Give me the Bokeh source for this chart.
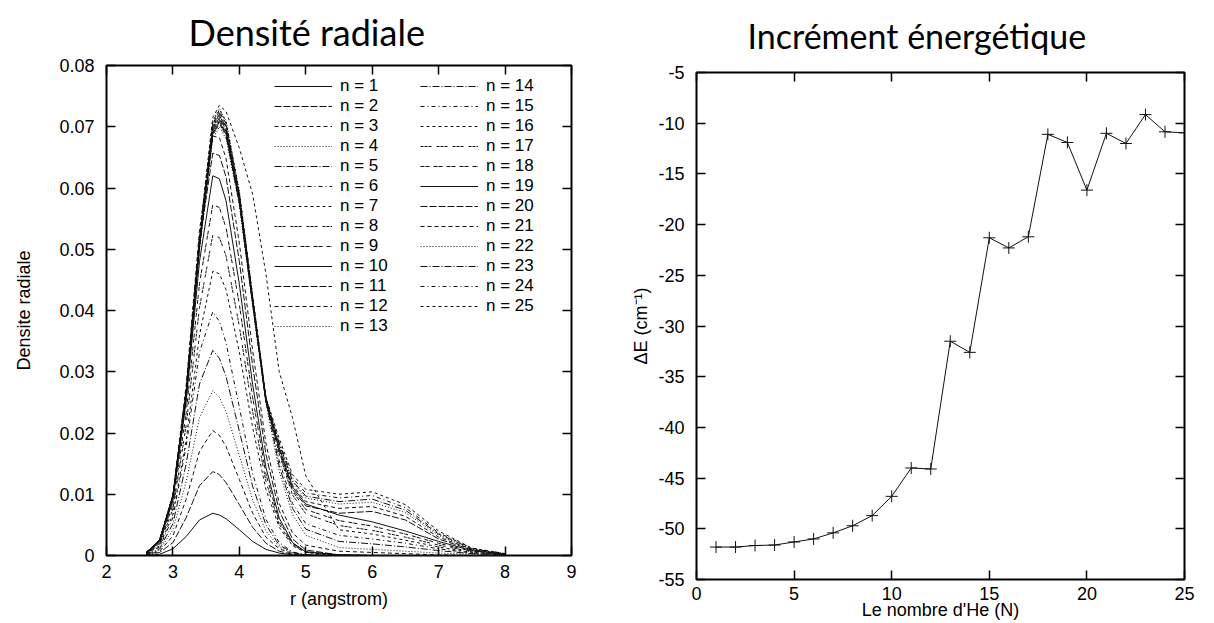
from bokeh.plotting import figure
from bokeh.layouts import row, column
from bokeh.models import Legend, LegendItem, LinearAxis, FixedTicker, Range1d, Title
from bokeh.embed import file_html
from bokeh.resources import INLINE

# ---------------- data: radial density (left panel) ----------------
R = [2.6, 2.8, 3.0, 3.2, 3.4, 3.6, 3.7, 3.8, 4.0, 4.2, 4.4, 4.6, 4.8, 5.0, 5.5, 6.0, 6.5, 7.0, 7.5, 8.0]

d01 = [0.0000, 0.0002, 0.0011, 0.0031, 0.0058, 0.0069, 0.0066, 0.0060, 0.0042, 0.0023, 0.0010, 0.0004, 0.0001, 0.0000, 0, 0, 0, 0, 0, 0]
d02 = [0.0001, 0.0005, 0.0021, 0.0062, 0.0114, 0.0137, 0.0132, 0.0119, 0.0083, 0.0046, 0.0020, 0.0007, 0.0002, 0.0000, 0, 0, 0, 0, 0, 0]
d03 = [0.0001, 0.0007, 0.0032, 0.0092, 0.0170, 0.0204, 0.0196, 0.0178, 0.0124, 0.0069, 0.0030, 0.0011, 0.0003, 0.0001, 0, 0, 0, 0, 0, 0]
d04 = [0.0001, 0.0009, 0.0042, 0.0121, 0.0225, 0.0269, 0.0258, 0.0235, 0.0163, 0.0091, 0.0040, 0.0014, 0.0004, 0.0001, 0, 0, 0, 0, 0, 0]
d05 = [0.0002, 0.0011, 0.0052, 0.0150, 0.0280, 0.0335, 0.0322, 0.0292, 0.0203, 0.0113, 0.0050, 0.0017, 0.0005, 0.0001, 0, 0, 0, 0, 0, 0]
d06 = [0.0002, 0.0014, 0.0062, 0.0179, 0.0332, 0.0398, 0.0382, 0.0347, 0.0242, 0.0134, 0.0059, 0.0021, 0.0006, 0.0001, 0, 0, 0, 0, 0, 0]
d07 = [0.0003, 0.0016, 0.0067, 0.0189, 0.0360, 0.0464, 0.0460, 0.0434, 0.0332, 0.0209, 0.0108, 0.0046, 0.0016, 0.0005, 0, 0, 0, 0, 0, 0]
d08 = [0.0003, 0.0018, 0.0076, 0.0213, 0.0405, 0.0523, 0.0519, 0.0489, 0.0374, 0.0235, 0.0121, 0.0051, 0.0018, 0.0005, 0.0001, 0, 0, 0, 0, 0]
d09 = [0.0003, 0.0020, 0.0083, 0.0233, 0.0444, 0.0573, 0.0568, 0.0535, 0.0410, 0.0258, 0.0133, 0.0056, 0.0020, 0.0006, 0.0001, 0, 0, 0, 0, 0]
d10 = [0.0003, 0.0022, 0.0090, 0.0252, 0.0480, 0.0620, 0.0615, 0.0579, 0.0443, 0.0279, 0.0144, 0.0061, 0.0021, 0.0006, 0.0001, 0, 0, 0, 0, 0]
d11 = [0.0004, 0.0023, 0.0095, 0.0267, 0.0510, 0.0657, 0.0653, 0.0618, 0.0480, 0.0310, 0.0165, 0.0073, 0.0027, 0.0009, 0.0001, 0, 0, 0, 0, 0]
d12 = [0.0004, 0.0024, 0.0099, 0.0279, 0.0531, 0.0685, 0.0682, 0.0648, 0.0510, 0.0335, 0.0183, 0.0085, 0.0037, 0.0017, 0.0007, 0.0005, 0.0003, 0.0001, 0.0000, 0.0000]
d13 = [0.0005, 0.0025, 0.0095, 0.0258, 0.0498, 0.0681, 0.0700, 0.0680, 0.0571, 0.0407, 0.0249, 0.0137, 0.0067, 0.0033, 0.0013, 0.0010, 0.0007, 0.0004, 0.0002, 0.0000]
d14 = [0.0005, 0.0025, 0.0096, 0.0263, 0.0507, 0.0693, 0.0712, 0.0692, 0.0580, 0.0414, 0.0253, 0.0146, 0.0077, 0.0043, 0.0023, 0.0019, 0.0014, 0.0008, 0.0003, 0.0001]
d15 = [0.0005, 0.0025, 0.0097, 0.0266, 0.0514, 0.0703, 0.0722, 0.0702, 0.0588, 0.0420, 0.0256, 0.0155, 0.0085, 0.0052, 0.0033, 0.0027, 0.0020, 0.0011, 0.0004, 0.0001]
d16 = [0.0005, 0.0026, 0.0099, 0.0271, 0.0523, 0.0715, 0.0735, 0.0725, 0.0665, 0.0590, 0.0460, 0.0300, 0.0225, 0.0130, 0.0042, 0.0035, 0.0025, 0.0014, 0.0005, 0.0001]
d17 = [0.0005, 0.0025, 0.0097, 0.0265, 0.0511, 0.0699, 0.0718, 0.0698, 0.0585, 0.0418, 0.0255, 0.0166, 0.0099, 0.0068, 0.0049, 0.0041, 0.0030, 0.0017, 0.0006, 0.0001]
d18 = [0.0005, 0.0025, 0.0095, 0.0260, 0.0502, 0.0686, 0.0705, 0.0685, 0.0575, 0.0410, 0.0250, 0.0169, 0.0105, 0.0075, 0.0057, 0.0048, 0.0035, 0.0020, 0.0007, 0.0002]
d19 = [0.0005, 0.0025, 0.0096, 0.0261, 0.0504, 0.0689, 0.0708, 0.0688, 0.0577, 0.0412, 0.0251, 0.0176, 0.0112, 0.0084, 0.0066, 0.0055, 0.0040, 0.0023, 0.0008, 0.0002]
d20 = [0.0005, 0.0025, 0.0097, 0.0264, 0.0509, 0.0696, 0.0715, 0.0695, 0.0583, 0.0416, 0.0254, 0.0172, 0.0108, 0.0081, 0.0069, 0.0072, 0.0058, 0.0027, 0.0009, 0.0002]
d21 = [0.0005, 0.0025, 0.0098, 0.0268, 0.0516, 0.0705, 0.0725, 0.0705, 0.0591, 0.0422, 0.0257, 0.0177, 0.0115, 0.0088, 0.0077, 0.0080, 0.0064, 0.0030, 0.0010, 0.0002]
d22 = [0.0005, 0.0026, 0.0099, 0.0269, 0.0520, 0.0710, 0.0730, 0.0710, 0.0595, 0.0425, 0.0259, 0.0182, 0.0120, 0.0094, 0.0084, 0.0087, 0.0070, 0.0033, 0.0010, 0.0003]
d23 = [0.0005, 0.0025, 0.0097, 0.0266, 0.0513, 0.0701, 0.0720, 0.0700, 0.0587, 0.0419, 0.0256, 0.0183, 0.0122, 0.0097, 0.0088, 0.0092, 0.0074, 0.0035, 0.0011, 0.0003]
d24 = [0.0005, 0.0025, 0.0096, 0.0262, 0.0506, 0.0691, 0.0710, 0.0690, 0.0579, 0.0413, 0.0252, 0.0185, 0.0127, 0.0102, 0.0094, 0.0098, 0.0078, 0.0037, 0.0012, 0.0003]
d25 = [0.0005, 0.0025, 0.0098, 0.0269, 0.0518, 0.0708, 0.0728, 0.0708, 0.0593, 0.0424, 0.0258, 0.0191, 0.0132, 0.0108, 0.0100, 0.0104, 0.0083, 0.0040, 0.0012, 0.0003]

curves = [d01, d02, d03, d04, d05, d06, d07, d08, d09, d10, d11, d12, d13,
          d14, d15, d16, d17, d18, d19, d20, d21, d22, d23, d24, d25]
curve_labels = ["n = %d" % i for i in range(1, 26)]
dash_cycle = ["solid", "7 2", "4 3", "1 2", "7 2 1 2", "4 3 1 3", "3 3", "3 1 3 1 3 5", "4 1 4 4"]

x_ticks_left = [2, 3, 4, 5, 6, 7, 8, 9]
y_ticks_left = [0, 0.01, 0.02, 0.03, 0.04, 0.05, 0.06, 0.07, 0.08]
y_labels_left = ["0", "0.01", "0.02", "0.03", "0.04", "0.05", "0.06", "0.07", "0.08"]

# ---------------- data: energy increment (right panel) ----------------
N_he = [1, 2, 3, 4, 5, 6, 7, 8, 9, 10, 11, 12, 13, 14, 15, 16, 17, 18, 19, 20, 21, 22, 23, 24, 25]
dE = [-51.8, -51.8, -51.65, -51.6, -51.3, -51.0, -50.4, -49.7, -48.7, -46.8, -44.0, -44.1, -31.5,
      -32.6, -21.3, -22.3, -21.2, -11.1, -11.9, -16.6, -11.0, -12.0, -9.15, -10.85, -10.95]
x_ticks_right = [0, 5, 10, 15, 20, 25]
y_ticks_right = [-55, -50, -45, -40, -35, -30, -25, -20, -15, -10, -5]
y_labels_right = ["-55", "-50", "-45", "-40", "-35", "-30", "-25", "-20", "-15", "-10", "-5"]

FONT = "Liberation Sans"
TFONT = "Lato"
FS = "18px"


def style_axis(ax, ticks, standoff, overrides=None):
    ax.ticker = FixedTicker(ticks=ticks)
    ax.major_tick_in = 9
    ax.major_tick_out = 0
    ax.major_tick_line_color = "black"
    ax.major_tick_line_width = 1.5
    ax.minor_tick_line_color = None
    ax.axis_line_color = None
    ax.major_label_text_font = FONT
    ax.major_label_text_font_size = FS
    ax.major_label_text_color = "black"
    ax.major_label_standoff = standoff
    ax.axis_label_text_font = FONT
    ax.axis_label_text_font_size = FS
    ax.axis_label_text_font_style = "normal"
    ax.axis_label_text_color = "black"
    if overrides:
        ax.major_label_overrides = overrides


def mirror_axes(p, xt, yt):
    # inward ticks on the top and right edges of the frame, no labels
    top = LinearAxis()
    style_axis(top, xt, 0)
    top.major_label_text_font_size = "1px"
    top.major_label_text_color = None
    p.add_layout(top, "above")
    right = LinearAxis()
    style_axis(right, yt, 0)
    right.major_label_text_font_size = "1px"
    right.major_label_text_color = None
    p.add_layout(right, "right")


def add_title(p, text, offset, standoff, size):
    p.add_layout(Title(text=text, align="left", offset=offset, standoff=standoff,
                       vertical_align="top",
                       text_font=TFONT, text_font_size=size, text_font_style="normal",
                       text_line_height=0.6, text_color="black"), "above")


# ---------------- left figure ----------------
p1 = figure(frame_width=465, frame_height=490, x_range=Range1d(2, 9), y_range=Range1d(0, 0.08),
            output_backend="svg", toolbar_location=None,
            min_border_left=106, min_border_right=41, min_border_top=57, min_border_bottom=68)
p1.grid.visible = False
p1.outline_line_color = "black"
p1.outline_line_width = 2
style_axis(p1.xaxis[0], x_ticks_left, 9)
style_axis(p1.yaxis[0], y_ticks_left, 12, dict(zip(y_ticks_left, y_labels_left)))
p1.xaxis[0].axis_label = "r (angstrom)"
p1.xaxis[0].axis_label_standoff = 8
p1.yaxis[0].axis_label = "Densite radiale"
p1.yaxis[0].axis_label_standoff = 22
mirror_axes(p1, x_ticks_left, y_ticks_left)
add_title(p1, "Densité radiale", 82, 19, "36px")

items = []
for i, (d, lab) in enumerate(zip(curves, curve_labels)):
    r = p1.line(R, d, line_color="#111111", line_width=1, line_dash=dash_cycle[i % 9])
    items.append(LegendItem(label=lab, renderers=[r]))

legend = Legend(items=items, location=(168, 219), nrows=13, orientation="vertical",
                glyph_width=58, glyph_height=20, label_height=20, label_width=80,
                label_standoff=8, spacing=0, padding=0, margin=0,
                border_line_color=None, background_fill_alpha=0,
                label_text_font=FONT, label_text_font_size="17px",
                label_text_color="black")
p1.add_layout(legend)

# ---------------- right figure ----------------
p2 = figure(frame_width=488, frame_height=507, x_range=Range1d(0, 25), y_range=Range1d(-55, -5),
            output_backend="svg", toolbar_location=None,
            min_border_left=84, min_border_right=22, min_border_top=65, min_border_bottom=43)
p2.grid.visible = False
p2.outline_line_color = "black"
p2.outline_line_width = 2
style_axis(p2.xaxis[0], x_ticks_right, 7)
style_axis(p2.yaxis[0], y_ticks_right, 12, dict(zip(y_ticks_right, y_labels_right)))
p2.xaxis[0].axis_label = "Le nombre d'He (N)"
p2.xaxis[0].axis_label_standoff = -3
p2.yaxis[0].axis_label = "ΔE (cm⁻¹)"
p2.yaxis[0].axis_label_standoff = 4
mirror_axes(p2, x_ticks_right, y_ticks_right)
add_title(p2, "Incrément énergétique", 51, 29, "34px")

p2.line(N_he, dE, line_color="#111111", line_width=1)
p2.scatter(N_he, dE, marker="cross", size=12, line_color="#111111", line_width=1)

layout = row(p1, column(p2))
open("out.html", "w").write(file_html(layout, INLINE))
